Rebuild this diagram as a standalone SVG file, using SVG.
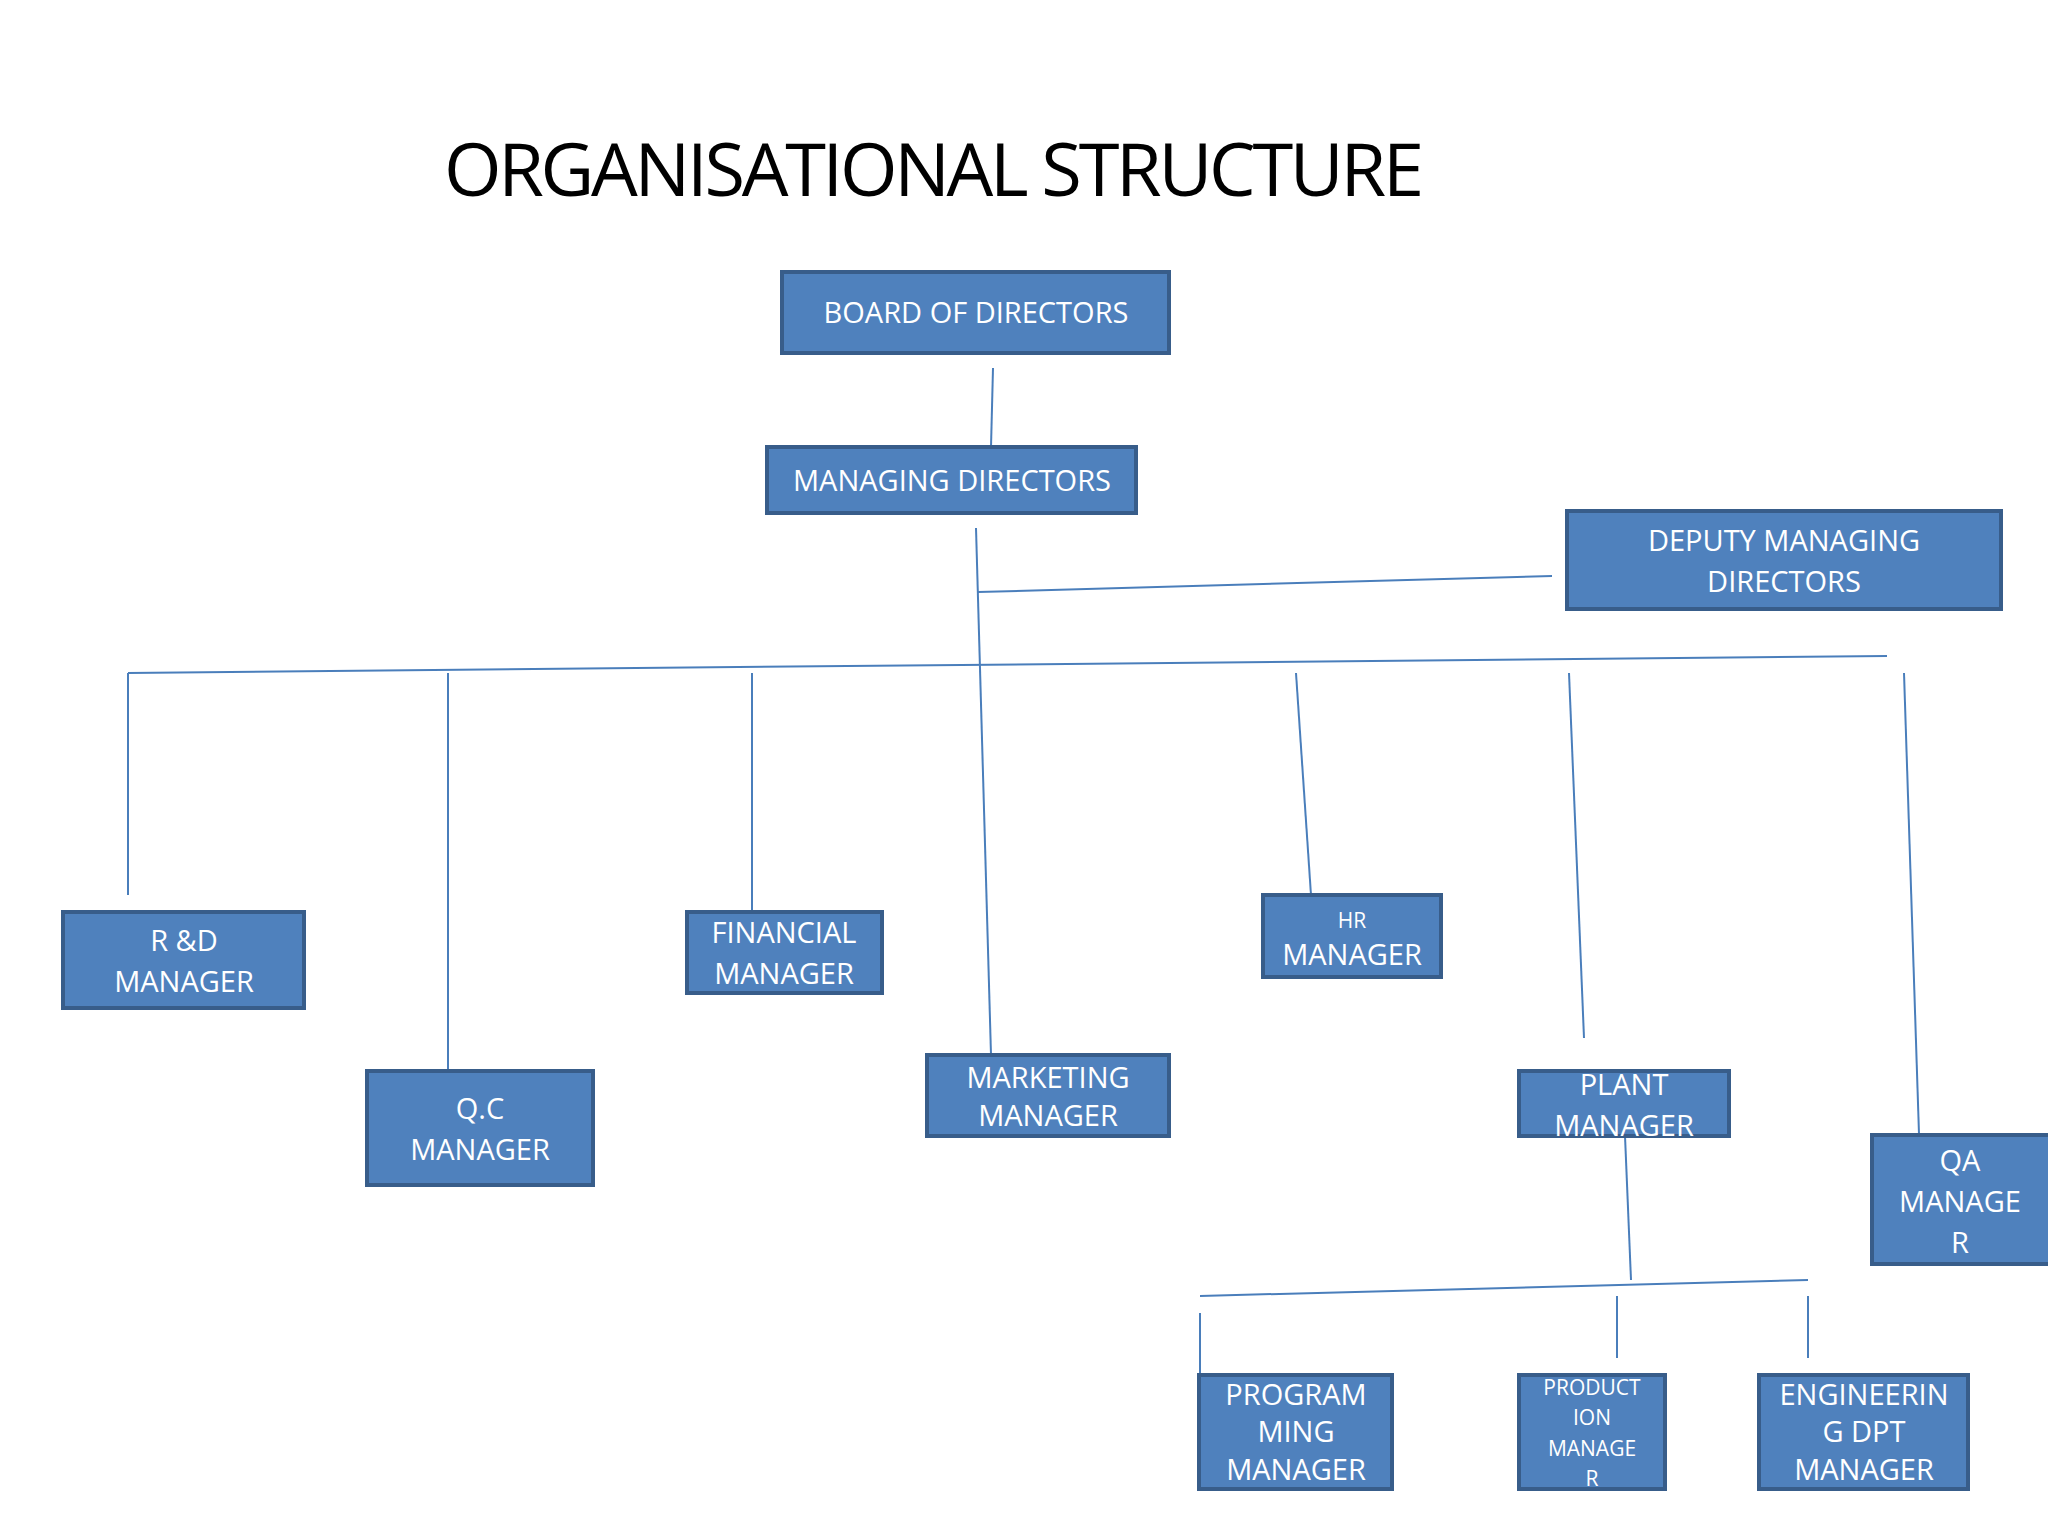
<svg xmlns="http://www.w3.org/2000/svg" width="2048" height="1536" viewBox="0 0 2048 1536">
<style>
.b{fill:#4F81BD;stroke:#385D8A;stroke-width:4}
.t{fill:#fff;font-family:"Open Sans","Liberation Sans",sans-serif;font-size:29px;text-anchor:middle}
.s{font-size:21px}
.c line{stroke:#4A7EBB;stroke-width:2}
</style>
<rect width="2048" height="1536" fill="#fff"/>
<text x="934" y="196" font-family="Open Sans,Liberation Sans,sans-serif" font-size="74" text-anchor="middle" textLength="980" fill="#000">ORGANISATIONAL STRUCTURE</text>
<g class="c">
<line x1="993" y1="368" x2="991" y2="447"/>
<line x1="976" y1="528" x2="991" y2="1055"/>
<line x1="978" y1="592" x2="1552" y2="576"/>
<line x1="128" y1="673" x2="1887" y2="656"/>
<line x1="128" y1="673" x2="128" y2="895"/>
<line x1="448" y1="673" x2="448" y2="1071"/>
<line x1="752" y1="673" x2="752" y2="912"/>
<line x1="1296" y1="673" x2="1311" y2="895"/>
<line x1="1569" y1="673" x2="1584" y2="1038"/>
<line x1="1904" y1="673" x2="1919" y2="1134"/>
<line x1="1625" y1="1136" x2="1631" y2="1280"/>
<line x1="1200" y1="1296" x2="1808" y2="1280"/>
<line x1="1200" y1="1313" x2="1200" y2="1375"/>
<line x1="1617" y1="1296" x2="1617" y2="1358"/>
<line x1="1808" y1="1296" x2="1808" y2="1358"/>
</g>
<g id="board"><rect class="b" x="782" y="272" width="387" height="81"/><text class="t" x="976" y="323">BOARD OF DIRECTORS</text></g>
<g id="md"><rect class="b" x="767" y="447" width="369" height="66"/><text class="t" x="952" y="491">MANAGING DIRECTORS</text></g>
<g id="dmd"><rect class="b" x="1567" y="511" width="434" height="98"/><text class="t" x="1784" y="551">DEPUTY MANAGING</text><text class="t" x="1784" y="592">DIRECTORS</text></g>
<g id="rd"><rect class="b" x="63" y="912" width="241" height="96"/><text class="t" x="184" y="951">R &amp;D</text><text class="t" x="184" y="992">MANAGER</text></g>
<g id="qc"><rect class="b" x="367" y="1071" width="226" height="114"/><text class="t" x="480" y="1119">Q.C</text><text class="t" x="480" y="1160">MANAGER</text></g>
<g id="fin"><rect class="b" x="687" y="912" width="195" height="81"/><text class="t" x="784" y="943">FINANCIAL</text><text class="t" x="784" y="984">MANAGER</text></g>
<g id="mkt"><rect class="b" x="927" y="1055" width="242" height="81"/><text class="t" x="1048" y="1088">MARKETING</text><text class="t" x="1048" y="1126">MANAGER</text></g>
<g id="hr"><rect class="b" x="1263" y="895" width="178" height="82"/><text class="t s" x="1352" y="928">HR</text><text class="t" x="1352" y="965">MANAGER</text></g>
<g id="plant"><rect class="b" x="1519" y="1071" width="210" height="65"/><text class="t" x="1624" y="1095">PLANT</text><text class="t" x="1624" y="1136">MANAGER</text></g>
<g id="qa"><rect class="b" x="1872" y="1135" width="180" height="129"/><text class="t" x="1960" y="1171">QA</text><text class="t" x="1960" y="1212">MANAGE</text><text class="t" x="1960" y="1253">R</text></g>
<g id="prog"><rect class="b" x="1199" y="1375" width="193" height="114"/><text class="t" x="1296" y="1405">PROGRAM</text><text class="t" x="1296" y="1442">MING</text><text class="t" x="1296" y="1480">MANAGER</text></g>
<g id="prod"><rect class="b" x="1519" y="1375" width="146" height="114"/><text class="t s" x="1592" y="1395">PRODUCT</text><text class="t s" x="1592" y="1425">ION</text><text class="t s" x="1592" y="1456">MANAGE</text><text class="t s" x="1592" y="1486">R</text></g>
<g id="eng"><rect class="b" x="1759" y="1375" width="209" height="114"/><text class="t" x="1864" y="1405">ENGINEERIN</text><text class="t" x="1864" y="1442">G DPT</text><text class="t" x="1864" y="1480">MANAGER</text></g>
</svg>
